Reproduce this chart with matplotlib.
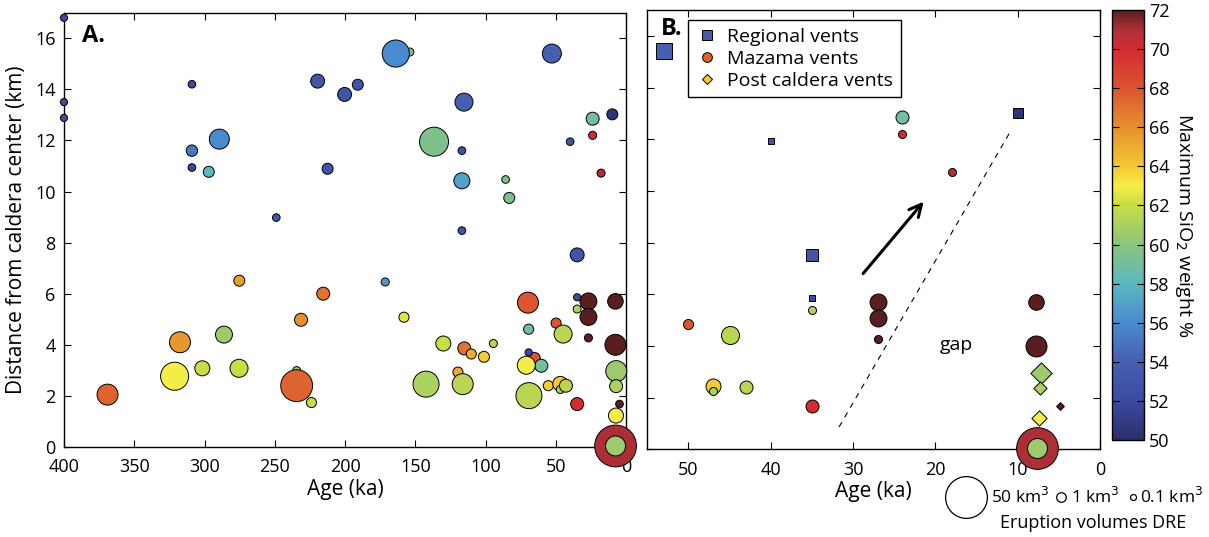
import numpy as np
import matplotlib
matplotlib.use('Agg')
import matplotlib.pyplot as plt
from matplotlib.colors import LinearSegmentedColormap, Normalize
from matplotlib.lines import Line2D

plt.rcParams['font.family'] = ['Open Sans', 'DejaVu Sans']

# vents: age (ka), distance from caldera center (km), max SiO2 (wt%),
# eruption volume (km3 DRE), vent type (R regional, M Mazama, P post caldera)
age = [400, 400, 400, 309, 289.5, 309, 309, 297, 249, 219.6,
       154, 164, 200.4, 191, 115.5, 136.8, 117, 212.5, 117, 85.9,
       83.3, 117, 275.3, 231.4, 317.5, 286.2, 321.3, 301.6, 275.5, 369,
       234.5, 234.5, 224, 215.6, 171.5, 158.2, 130.2, 115.3, 110.3, 101.3,
       94.6, 142.5, 119.8, 116.4, 70, 69.5, 65.5, 69.5, 60.5, 71.2,
       69.3, 55.5, 53, 40, 24, 24, 18, 10, 35, 35,
       35, 50, 45, 47, 47, 43, 35, 27, 27, 27,
       7.8, 7.8, 7.2, 7.3, 4.9, 7.4, 7.7, 7.7]
dist = [16.8, 13.5, 12.88, 14.2, 12.05, 11.6, 10.94, 10.77, 8.98, 14.32,
        15.46, 15.4, 13.8, 14.18, 13.5, 11.95, 11.6, 10.89, 10.42, 10.47,
        9.75, 8.47, 6.51, 4.98, 4.1, 4.4, 2.77, 3.08, 3.08, 2.05,
        2.99, 2.4, 1.74, 6.0, 6.46, 5.08, 4.05, 3.86, 3.64, 3.53,
        4.05, 2.46, 2.93, 2.46, 5.65, 4.61, 3.47, 3.7, 3.18, 3.2,
        2.01, 2.4, 15.4, 11.95, 12.85, 12.2, 10.72, 13.02, 7.52, 5.86,
        5.4, 4.85, 4.42, 2.47, 2.25, 2.4, 1.68, 5.7, 5.09, 4.27,
        5.7, 4.0, 2.97, 2.38, 1.68, 1.23, 0.04, 0.04]
sio2 = [52, 52, 52, 52, 56, 55, 52, 58, 53, 53,
        59.5, 56, 53, 53, 54, 59.5, 53, 53, 57, 59.5,
        59.5, 53, 65.5, 66, 65.8, 60.5, 63, 62, 62, 67.5,
        60, 67.5, 62, 67, 56.5, 62.5, 62, 67, 65, 64,
        61.5, 61, 65, 61.5, 68, 59, 68, 52, 59, 63,
        61.5, 64, 54, 53, 59, 70, 71, 50.5, 53, 52,
        61, 68, 61.5, 64, 61, 61.5, 70, 72, 72, 72,
        72, 72, 60.5, 61, 72, 63, 71, 60.5]
vol = [0.3, 0.3, 0.3, 0.4, 8.8, 1.8, 0.4, 1.6, 0.4, 3.3,
       0.5, 18.5, 3.3, 1.6, 6.7, 21.7, 0.4, 1.6, 4.9, 0.4,
       1.6, 0.4, 1.6, 2.7, 9.9, 5.7, 20, 4.1, 6.7, 9.9,
       0.5, 27, 1.2, 2.7, 0.5, 1.2, 4.1, 2.7, 1.2, 1.6,
       0.5, 16.8, 1.2, 9.9, 9.9, 1.2, 2.1, 0.3, 2.7, 6.7,
       16.8, 1.2, 7.7, 0.4, 2.7, 0.5, 0.5, 1.6, 3.3, 0.3,
       0.5, 1.2, 6.7, 4.1, 0.5, 2.7, 2.7, 5.7, 5.7, 0.5,
       4.5, 9.9, 9.9, 2.7, 0.4, 4.1, 50, 8.8]
vent = ['R', 'R', 'R', 'R', 'R', 'R', 'R', 'M', 'R', 'R',
        'M', 'R', 'R', 'R', 'R', 'M', 'R', 'R', 'M', 'M',
        'M', 'R', 'M', 'M', 'M', 'M', 'M', 'M', 'M', 'M',
        'M', 'M', 'M', 'M', 'M', 'M', 'M', 'M', 'M', 'M',
        'M', 'M', 'M', 'M', 'M', 'M', 'M', 'R', 'M', 'M',
        'M', 'M', 'R', 'R', 'M', 'M', 'M', 'R', 'R', 'R',
        'M', 'M', 'M', 'M', 'M', 'M', 'M', 'M', 'M', 'M',
        'M', 'M', 'P', 'P', 'P', 'P', 'M', 'M']

legend_vols = [50, 1, 0.1]
legend_vol_labels = ['50 km$^3$', '1 km$^3$', '0.1 km$^3$']

age = np.array(age)
dist = np.array(dist)
sio2 = np.array(sio2)
vol = np.array(vol)
vent = np.array(vent)

cmap = LinearSegmentedColormap.from_list('sio2', [
    (0.0, '#2b2f6b'), (2 / 22., '#3b4ba0'), (4 / 22., '#4560b0'),
    (6 / 22., '#4a8bcf'), (8 / 22., '#5ab8c0'), (10 / 22., '#8cc47c'),
    (12 / 22., '#c8dc44'), (13 / 22., '#f5ee48'), (14 / 22., '#f5c932'),
    (16 / 22., '#e59030'), (18 / 22., '#dc5530'), (20 / 22., '#d42b30'),
    (21 / 22., '#b03038'), (1.0, '#5a1e20')])
norm = Normalize(50, 72)


def diam_px(v):
    return 4.3 + 5.3 * np.sqrt(v)


def size_pt(v, k=1.0):
    return (k * diam_px(v) * 0.72) ** 2


fig = plt.figure(figsize=(12.09, 5.37), dpi=100)
axA = fig.add_axes([0.0529, 0.1676, 0.4652, 0.8088])
axB = fig.add_axes([0.5354, 0.163, 0.3744, 0.8184])
cax = fig.add_axes([0.9195, 0.1806, 0.027, 0.8007])

for ax in (axA, axB):
    ax.tick_params(direction='in', top=True, right=True, labelsize=13,
                   length=5, width=0.8)
    ax.tick_params(axis='x', pad=8)
    ax.tick_params(axis='y', pad=6)
    for s in ax.spines.values():
        s.set_linewidth(1.0)

# panel A
axA.scatter(age, dist, s=size_pt(vol), c=sio2, cmap=cmap, norm=norm,
            edgecolors='k', linewidths=0.7, clip_on=False, zorder=3)
axA.set_xlim(400, 0)
axA.set_ylim(0, 17)
axA.set_xticks(np.arange(400, -1, -50))
axA.set_yticks(np.arange(0, 17, 2))
axA.set_xlabel('Age (ka)', fontsize=15, labelpad=2)
axA.set_ylabel('Distance from caldera center (km)', fontsize=15, labelpad=6)
axA.text(0.032, 0.975, 'A.', transform=axA.transAxes, fontsize=17,
         fontweight='bold', va='top', ha='left')

# panel B
recent = age < 55
markers = {'R': ('s', 0.88), 'M': ('o', 1.0), 'P': ('D', 0.72)}
for i in np.where(recent)[0]:
    m, k = markers[vent[i]]
    axB.scatter([age[i]], [dist[i]], s=size_pt(vol[i], k), c=[sio2[i]],
                cmap=cmap, norm=norm, marker=m, edgecolors='k',
                linewidths=0.7, clip_on=False, zorder=3)
axB.set_xlim(55, 0)
axB.set_ylim(0, 17)
axB.set_xticks(np.arange(50, -1, -10))
axB.set_yticks(np.arange(0, 17, 2))
axB.set_yticklabels([])
axB.set_xlabel('Age (ka)', fontsize=15, labelpad=2)
axB.text(0.029, 0.985, 'B.', transform=axB.transAxes, fontsize=17,
         fontweight='bold', va='top', ha='left')
axB.plot([31.7, 10.7], [0.87, 12.4], 'k--', lw=0.8, dashes=(5, 5))
axB.annotate('', xy=(21.2, 9.67), xytext=(29.0, 6.72),
             arrowprops=dict(arrowstyle='->', lw=2.2, color='k',
                             mutation_scale=22))
axB.text(17.4, 4.05, 'gap', fontsize=14, ha='center', va='center')

handles = [Line2D([], [], marker='s', ls='', mfc='#4a5aa8', mec='k', ms=7, mew=0.7),
           Line2D([], [], marker='o', ls='', mfc='#e06030', mec='k', ms=7, mew=0.7),
           Line2D([], [], marker='D', ls='', mfc='#f5d020', mec='k', ms=5, mew=0.7)]
leg = axB.legend(handles, ['Regional vents', 'Mazama vents', 'Post caldera vents'],
                 loc='upper left', bbox_to_anchor=(0.09, 0.977), fontsize=14,
                 frameon=True, fancybox=False, framealpha=1, edgecolor='k',
                 handletextpad=0.4, borderpad=0.4, labelspacing=0.2,
                 handlelength=1.2, borderaxespad=0)
leg.get_frame().set_linewidth(1.0)

# colorbar
sm = plt.cm.ScalarMappable(cmap=cmap, norm=norm)
cb = fig.colorbar(sm, cax=cax, ticks=np.arange(50, 73, 2))
cb.ax.tick_params(direction='in', left=True, right=True, labelsize=13,
                  length=5, width=0.8)
cb.outline.set_linewidth(1.0)
cb.set_label('Maximum SiO$_2$ weight %', rotation=270, fontsize=14, labelpad=18)

# eruption volume key
kax = fig.add_axes([0, 0, 1, 1], facecolor='none')
kax.set_xlim(0, 1209)
kax.set_ylim(537, 0)
kax.axis('off')
kx = [966, 1061, 1133]
tx = [991, 1071, 1140]
for x, t, v, lab in zip(kx, tx, legend_vols, legend_vol_labels):
    kax.scatter([x], [497], s=size_pt(v), facecolors='white',
                edgecolors='k', linewidths=0.9)
    kax.text(t, 497, lab, fontsize=12.5, va='center', ha='left')
kax.text(1093, 523, 'Eruption volumes DRE', fontsize=13, ha='center', va='center')

fig.savefig('out.png', dpi=100)
